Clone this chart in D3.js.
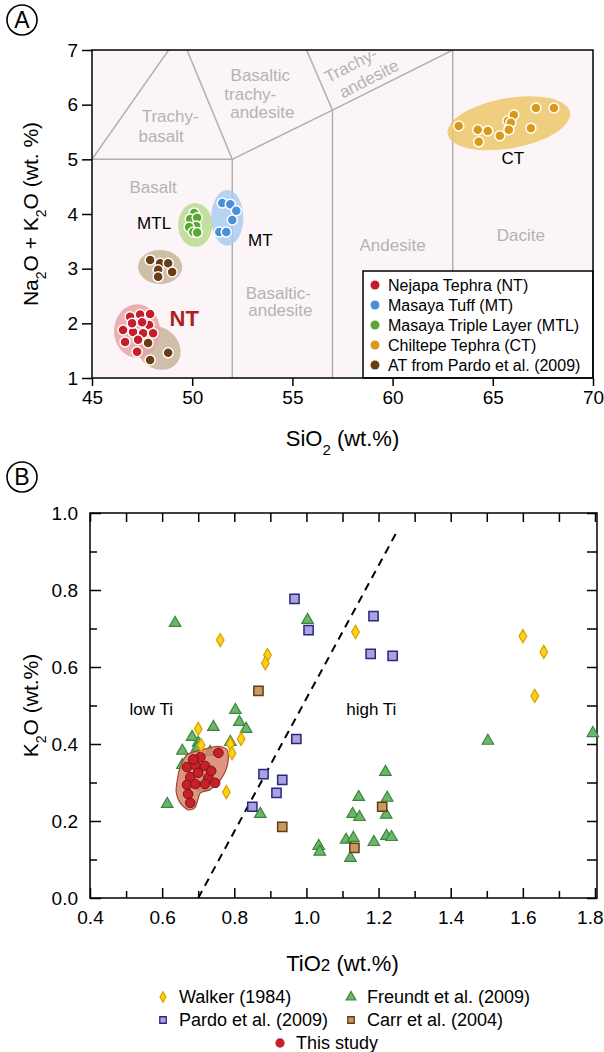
<!DOCTYPE html>
<html lang="en">
<head>
<meta charset="utf-8">
<script src="https://cdn.jsdelivr.net/npm/d3@7"></script>
<style>
  body { margin: 0; background: #fff; font-family: "Liberation Sans", Arial, sans-serif; }
  svg text { font-family: "Liberation Sans", Arial, sans-serif; }
  .axis path { display: none; }
  .axis line { stroke: #000; stroke-width: 1.5; }
  .axis text { fill: #000; font-size: 19px; }
  .region { fill: #b3b3b3; font-size: 17px; text-anchor: middle; }
</style>
</head>
<body>
<svg id="chart" width="604" height="1052"></svg>
<script>
// ---------- panel A data (SiO2, Na2O+K2O) ----------
var tasXTicks = [45, 50, 55, 60, 65, 70];
var tasYTicks = [1, 2, 3, 4, 5, 6, 7];

var ntPts = [[46.9, 2.12], [47.4, 2.16], [47.9, 2.17], [47.85, 1.97], [46.55, 1.88], [47.05, 1.84],
  [47.55, 1.82], [48.05, 1.82], [46.65, 1.66], [47.3, 1.7], [47.25, 1.48], [47.0, 2.0], [47.5, 2.02]];
var mtPts = [[51.5, 4.2], [51.9, 4.18], [52.2, 4.06], [52.0, 3.89], [51.35, 3.67], [51.7, 3.67]];
var mtlPts = [[50.1, 4.02], [49.9, 3.91], [50.25, 3.93], [50.2, 3.78], [49.85, 3.76], [50.05, 3.67], [50.25, 3.66]];
var ctPts = [[63.3, 5.61], [64.25, 5.54], [64.75, 5.52], [64.3, 5.32], [65.35, 5.43], [65.75, 5.7],
  [66.05, 5.81], [65.9, 5.67], [65.8, 5.54], [66.9, 5.57], [67.15, 5.94], [68.05, 5.94]];
var atPts = [[47.9, 3.16], [48.4, 3.1], [48.8, 3.1], [48.3, 2.98], [49.0, 2.94], [48.3, 2.85],
  [47.8, 1.64], [48.8, 1.46], [47.9, 1.33]];

// TAS field boundaries (Le Bas et al.)
var tasLines = [
  [[45, 5], [52, 5]], [[52, 1], [52, 5]], [[57, 1], [57, 5.9]], [[63, 1], [63, 7]],
  [[45, 5], [49.4, 7.3]], [[49.4, 7.3], [52, 5]], [[52, 5], [57, 5.9], [63, 7]], [[53, 9.3], [57, 5.9]]
];

var fieldNames = [
  { t: 'Trachy-', x: 48.9, y: 5.79 }, { t: 'basalt', x: 48.45, y: 5.43 },
  { t: 'Basaltic', x: 53.4, y: 6.54 }, { t: 'trachy-', x: 52.9, y: 6.2 }, { t: 'andesite', x: 53.5, y: 5.86 },
  { t: 'Basalt', x: 48.05, y: 4.5 },
  { t: 'Basaltic-', x: 54.3, y: 2.56 }, { t: 'andesite', x: 54.4, y: 2.24 },
  { t: 'Andesite', x: 60, y: 3.44 }, { t: 'Dacite', x: 66.4, y: 3.62 }
];
var fieldRot = [
  { t: 'Trachy-', x: 58.05, y: 6.74 }, { t: 'andesite', x: 58.95, y: 6.49 }
];

// halo ellipses: centre (data), radii (data units), rotation (deg)
var halos = [
  { c: '#c8b49b', x: 48.3, y: 1.55, rx: 1.2, ry: 0.37, r: 40 },
  { c: '#e6a3a8', x: 47.25, y: 1.86, rx: 1.15, ry: 0.49, r: 0 },
  { c: '#c8b49b', x: 48.4, y: 3.03, rx: 1.1, ry: 0.31, r: 0 },
  { c: '#b9d98e', x: 50.15, y: 3.8, rx: 0.85, ry: 0.4, r: 0 },
  { c: '#a9cdf0', x: 51.75, y: 3.93, rx: 0.8, ry: 0.51, r: 0 },
  { c: '#ecc76a', x: 65.8, y: 5.66, rx: 3.1, ry: 0.46, r: -10 }
];

var seriesA = [
  { name: 'Nejapa Tephra (NT)', color: '#c61d2b', pts: ntPts },
  { name: 'Masaya Tuff (MT)', color: '#4a90d9', pts: mtPts },
  { name: 'Masaya Triple Layer (MTL)', color: '#5aa832', pts: mtlPts },
  { name: 'Chiltepe Tephra (CT)', color: '#d99a1a', pts: ctPts },
  { name: 'AT from Pardo et al. (2009)', color: '#6b3d12', pts: atPts }
];

// ---------- panel B data (TiO2, K2O) ----------
var tiXTicks = [0.4, 0.6, 0.8, 1.0, 1.2, 1.4, 1.6, 1.8];
var kYTicks = [0, 0.2, 0.4, 0.6, 0.8, 1.0];

var walker = [[0.761, 0.67], [0.892, 0.631], [0.886, 0.61], [1.136, 0.691], [1.6, 0.68], [1.658, 0.639],
  [1.633, 0.525], [0.7, 0.439], [0.708, 0.397], [0.789, 0.40], [0.794, 0.376], [0.819, 0.413], [0.778, 0.275]];
var freundt = [[0.636, 0.714], [1.003, 0.722], [1.503, 0.408], [1.794, 0.428], [1.219, 0.327], [1.145, 0.262],
  [1.224, 0.26], [1.128, 0.218], [1.147, 0.21], [1.221, 0.216], [1.034, 0.135], [1.037, 0.12], [1.11, 0.151],
  [1.13, 0.156], [1.187, 0.145], [1.222, 0.161], [1.236, 0.158], [1.122, 0.104], [0.803, 0.488],
  [0.814, 0.457], [0.833, 0.439], [0.742, 0.444], [0.683, 0.418], [0.7, 0.403], [0.656, 0.382],
  [0.697, 0.39], [0.789, 0.405], [0.733, 0.379], [0.614, 0.244], [0.872, 0.218], [0.656, 0.345], [0.714, 0.288]];
var pardo = [[0.967, 0.777], [1.006, 0.696], [1.186, 0.732], [1.178, 0.634], [1.239, 0.629], [0.972, 0.413],
  [0.881, 0.322], [0.933, 0.307], [0.917, 0.273], [0.85, 0.237]];
var carr = [[0.867, 0.538], [1.21, 0.237], [1.133, 0.13], [0.933, 0.185]];
var thisStudy = [[0.669, 0.34], [0.692, 0.345], [0.719, 0.343], [0.756, 0.377], [0.678, 0.314], [0.7, 0.325],
  [0.728, 0.312], [0.669, 0.294], [0.692, 0.296], [0.719, 0.296], [0.747, 0.299], [0.672, 0.27],
  [0.678, 0.247], [0.706, 0.366], [0.686, 0.36], [0.736, 0.33]];
var studyHull = [[0.642, 0.306], [0.65, 0.34], [0.669, 0.372], [0.706, 0.384], [0.753, 0.394], [0.781, 0.384],
  [0.781, 0.345], [0.761, 0.306], [0.733, 0.281], [0.706, 0.273], [0.692, 0.236], [0.672, 0.229],
  [0.65, 0.247], [0.639, 0.275]];
var tiLine = [[0.70, 0.0], [1.25, 0.95]];

var svg = d3.select('#chart');

// ================= PANEL A =================
var xA = d3.scaleLinear().domain([45, 70]).range([92, 593]);
var yA = d3.scaleLinear().domain([1, 7]).range([378, 50]);

function circled(x, y, letter) {
  svg.append('circle').attr('cx', x).attr('cy', y).attr('r', 15)
    .attr('fill', 'none').attr('stroke', '#000').attr('stroke-width', 1.6);
  svg.append('text').attr('x', x).attr('y', y + 8).attr('text-anchor', 'middle')
    .style('font-size', '23px').text(letter);
}
circled(22, 20, 'A');

var gA = svg.append('g');
gA.append('rect').attr('x', xA(45)).attr('y', yA(7))
  .attr('width', xA(70) - xA(45)).attr('height', yA(1) - yA(7)).attr('fill', '#fcf5f7');

svg.append('clipPath').attr('id', 'clipA').append('rect')
  .attr('x', xA(45)).attr('y', yA(7)).attr('width', xA(70) - xA(45)).attr('height', yA(1) - yA(7));

var lineA = d3.line().x(function (d) { return xA(d[0]); }).y(function (d) { return yA(d[1]); });
gA.append('g').attr('clip-path', 'url(#clipA)').selectAll('path').data(tasLines).enter()
  .append('path').attr('d', lineA).attr('fill', 'none').attr('stroke', '#b0b0b0').attr('stroke-width', 1.5);

gA.selectAll('.region').data(fieldNames).enter().append('text').attr('class', 'region')
  .attr('x', function (d) { return xA(d.x); }).attr('y', function (d) { return yA(d.y) + 6; })
  .text(function (d) { return d.t; });
gA.selectAll('.regionr').data(fieldRot).enter().append('text').attr('class', 'region')
  .attr('transform', function (d) { return 'translate(' + xA(d.x) + ',' + (yA(d.y) + 6) + ') rotate(-27)'; })
  .text(function (d) { return d.t; });

gA.selectAll('.halo').data(halos).enter().append('ellipse')
  .attr('transform', function (d) { return 'translate(' + xA(d.x) + ',' + yA(d.y) + ') rotate(' + d.r + ')'; })
  .attr('rx', function (d) { return xA(45 + d.rx) - xA(45); })
  .attr('ry', function (d) { return yA(1) - yA(1 + d.ry); })
  .attr('fill', function (d) { return d.c; }).attr('opacity', 0.85);

// brown first, red on top
[4, 1, 2, 3, 0].forEach(function (i) {
  var s = seriesA[i];
  gA.append('g').selectAll('circle').data(s.pts).enter().append('circle')
    .attr('cx', function (d) { return xA(d[0]); }).attr('cy', function (d) { return yA(d[1]); })
    .attr('r', 5).attr('fill', s.color).attr('stroke', '#fff').attr('stroke-width', 1.5);
});

gA.append('text').attr('x', xA(48.1)).attr('y', yA(3.84) + 6).attr('text-anchor', 'middle')
  .style('font-size', '17px').text('MTL');
gA.append('text').attr('x', xA(53.4)).attr('y', yA(3.52) + 6).attr('text-anchor', 'middle')
  .style('font-size', '17px').text('MT');
gA.append('text').attr('x', xA(66)).attr('y', yA(5.02) + 6).attr('text-anchor', 'middle')
  .style('font-size', '17px').text('CT');
gA.append('text').attr('x', xA(49.6)).attr('y', yA(2.1) + 8).attr('text-anchor', 'middle')
  .style('font-size', '22px').style('font-weight', 'bold').attr('fill', '#b01c24').text('NT');

// legend A
var legA = gA.append('g');
legA.append('rect').attr('x', 363).attr('y', 271).attr('width', xA(70) - 363).attr('height', yA(1) - 271)
  .attr('fill', '#fff').attr('stroke', '#000').attr('stroke-width', 1.5);
legA.selectAll('g').data(seriesA).enter().append('g')
  .attr('transform', function (d, i) { return 'translate(375,' + (285 + i * 20) + ')'; })
  .each(function (d) {
    var g = d3.select(this);
    g.append('circle').attr('r', 4.5).attr('fill', d.color);
    g.append('text').attr('x', 13).attr('y', 6).style('font-size', '16px').text(d.name);
  });

gA.append('rect').attr('x', xA(45)).attr('y', yA(7))
  .attr('width', xA(70) - xA(45)).attr('height', yA(1) - yA(7))
  .attr('fill', 'none').attr('stroke', '#000').attr('stroke-width', 1.5);

gA.append('g').attr('class', 'axis').attr('transform', 'translate(' + xA(45) + ',0)')
  .call(d3.axisLeft(yA).tickValues(tasYTicks).tickSize(10).tickPadding(4).tickFormat(d3.format('d')));
gA.append('g').attr('class', 'axis').attr('transform', 'translate(0,' + yA(1) + ')')
  .call(d3.axisBottom(xA).tickValues(tasXTicks).tickSize(8).tickPadding(5).tickFormat(d3.format('d')));

var tA = gA.append('text').attr('x', (xA(45) + xA(70)) / 2).attr('y', 446).attr('text-anchor', 'middle')
  .style('font-size', '22px');
tA.append('tspan').text('SiO');
tA.append('tspan').attr('baseline-shift', 'sub').style('font-size', '15px').text('2');
tA.append('tspan').text(' (wt.%)');

var yTA = gA.append('text').attr('transform', 'translate(38,' + (yA(4)) + ') rotate(-90)')
  .attr('text-anchor', 'middle').style('font-size', '21px');
yTA.append('tspan').text('Na');
yTA.append('tspan').attr('baseline-shift', 'sub').style('font-size', '14px').text('2');
yTA.append('tspan').text('O + K');
yTA.append('tspan').attr('baseline-shift', 'sub').style('font-size', '14px').text('2');
yTA.append('tspan').text('O (wt. %)');

// ================= PANEL B =================
circled(22, 477, 'B');

var xB = d3.scaleLinear().domain([0.4, 1.8]).range([90, 595]);
var yB = d3.scaleLinear().domain([0, 1]).range([898, 513]);
var gB = svg.append('g');

gB.append('rect').attr('x', xB(0.4)).attr('y', yB(1)).attr('width', xB(1.8) - xB(0.4) + 2)
  .attr('height', yB(0) - yB(1)).attr('fill', 'none').attr('stroke', '#000').attr('stroke-width', 1.5);

var minorX = d3.range(0.5, 1.8, 0.2), minorY = d3.range(0.1, 1.0, 0.2);
function ticksB(axis, vals, len, lab) {
  return axis.tickValues(vals).tickSize(len).tickPadding(lab ? 16 : 0)
    .tickFormat(lab ? d3.format('.1f') : '');
}
gB.append('g').attr('class', 'axis xb').attr('transform', 'translate(0,' + yB(0) + ')')
  .call(ticksB(d3.axisBottom(xB), tiXTicks, -10, true));
gB.append('g').attr('class', 'axis').attr('transform', 'translate(0,' + yB(0) + ')')
  .call(ticksB(d3.axisBottom(xB), minorX, -7, false));
gB.append('g').attr('class', 'axis').attr('transform', 'translate(0,' + yB(1) + ')')
  .call(ticksB(d3.axisTop(xB), tiXTicks.concat(minorX), -9, false));
gB.append('g').attr('class', 'axis yb').attr('transform', 'translate(' + xB(0.4) + ',0)')
  .call(ticksB(d3.axisLeft(yB), kYTicks, -11, true));
gB.append('g').attr('class', 'axis').attr('transform', 'translate(' + xB(0.4) + ',0)')
  .call(ticksB(d3.axisLeft(yB), minorY, -7, false));
gB.append('g').attr('class', 'axis').attr('transform', 'translate(' + (xB(1.8) + 2) + ',0)')
  .call(ticksB(d3.axisRight(yB), kYTicks.concat(minorY), -10, false));
gB.selectAll('.xb .tick text').attr('y', 13).attr('dy', '0.71em');
gB.selectAll('.yb .tick text').attr('x', -12).attr('dy', '0.32em');
// last x label sits against the page edge
gB.selectAll('.xb .tick text').filter(function (d) { return d === 1.8; })
  .attr('text-anchor', 'end').attr('x', 603 - xB(1.8));

var lineB = d3.line().x(function (d) { return xB(d[0]); }).y(function (d) { return yB(d[1]); });
gB.append('path').attr('d', lineB(tiLine)).attr('fill', 'none').attr('stroke', '#000')
  .attr('stroke-width', 2).attr('stroke-dasharray', '8,6');

gB.append('text').attr('x', xB(0.57)).attr('y', yB(0.49) + 6).attr('text-anchor', 'middle')
  .style('font-size', '17px').text('low Ti');
gB.append('text').attr('x', xB(1.18)).attr('y', yB(0.49) + 6).attr('text-anchor', 'middle')
  .style('font-size', '17px').text('high Ti');

var symTri = d3.symbol().type(d3.symbolTriangle).size(58);
var symSq = d3.symbol().type(d3.symbolSquare).size(85);
var symDia = d3.symbol().type(d3.symbolDiamond).size(50);
function place(d) { return 'translate(' + xB(d[0]) + ',' + yB(d[1]) + ')'; }

gB.append('g').selectAll('path').data(freundt).enter().append('path').attr('d', symTri)
  .attr('transform', place).attr('fill', '#6db56d').attr('stroke', '#3a873a').attr('stroke-width', 1.2);
gB.append('g').selectAll('path').data(pardo).enter().append('path').attr('d', symSq)
  .attr('transform', place).attr('fill', '#aaa3e2').attr('stroke', '#2b2780').attr('stroke-width', 1.5);
gB.append('g').selectAll('path').data(carr).enter().append('path').attr('d', symSq)
  .attr('transform', place).attr('fill', '#c89a5e').attr('stroke', '#5e3f14').attr('stroke-width', 1.5);

gB.append('path').attr('d', lineB.curve(d3.curveCardinalClosed.tension(0.2))(studyHull))
  .attr('fill', '#d9826a').attr('fill-opacity', 0.85).attr('stroke', '#9a4a32').attr('stroke-width', 1.2);
gB.append('g').selectAll('circle').data(thisStudy).enter().append('circle')
  .attr('cx', function (d) { return xB(d[0]); }).attr('cy', function (d) { return yB(d[1]); })
  .attr('r', 4.8).attr('fill', '#c8202a').attr('stroke', '#7a1414').attr('stroke-width', 1);

gB.append('g').selectAll('path').data(walker).enter().append('path').attr('d', symDia)
  .attr('transform', place).attr('fill', '#fcd116').attr('stroke', '#d9a300').attr('stroke-width', 1.3);

var tB = gB.append('text').attr('x', (xB(0.4) + xB(1.8)) / 2).attr('y', 971).attr('text-anchor', 'middle')
  .style('font-size', '22px');
tB.append('tspan').text('TiO');
tB.append('tspan').style('font-size', '17px').text('2');
tB.append('tspan').text(' (wt.%)');

var yTB = gB.append('text').attr('transform', 'translate(38,' + yB(0.5) + ') rotate(-90)')
  .attr('text-anchor', 'middle').style('font-size', '21px');
yTB.append('tspan').text('K');
yTB.append('tspan').attr('baseline-shift', 'sub').style('font-size', '14px').text('2');
yTB.append('tspan').text('O (wt.%)');

// legend B
var legB = [
  { name: 'Walker (1984)', x: 163, y: 997, sym: d3.symbolDiamond, size: 30, fill: '#fcd116', stroke: '#d9a300' },
  { name: 'Freundt et al. (2009)', x: 351, y: 997, sym: d3.symbolTriangle, size: 40, fill: '#6db56d', stroke: '#3a873a' },
  { name: 'Pardo et al. (2009)', x: 163, y: 1020, sym: d3.symbolSquare, size: 42, fill: '#aaa3e2', stroke: '#2b2780' },
  { name: 'Carr et al. (2004)', x: 351, y: 1020, sym: d3.symbolSquare, size: 42, fill: '#c89a5e', stroke: '#5e3f14' },
  { name: 'This study', x: 280, y: 1043, sym: d3.symbolCircle, size: 50, fill: '#c8202a', stroke: '#c8202a' }
];
var lg = gB.selectAll('.legB').data(legB).enter().append('g')
  .attr('transform', function (d) { return 'translate(' + d.x + ',' + d.y + ')'; });
lg.append('path').attr('d', function (d) { return d3.symbol().type(d.sym).size(d.size)(); })
  .attr('fill', function (d) { return d.fill; }).attr('stroke', function (d) { return d.stroke; })
  .attr('stroke-width', 1.3);
lg.append('text').attr('x', 16).attr('y', 6).style('font-size', '18px').text(function (d) { return d.name; });
</script>
</body>
</html>
